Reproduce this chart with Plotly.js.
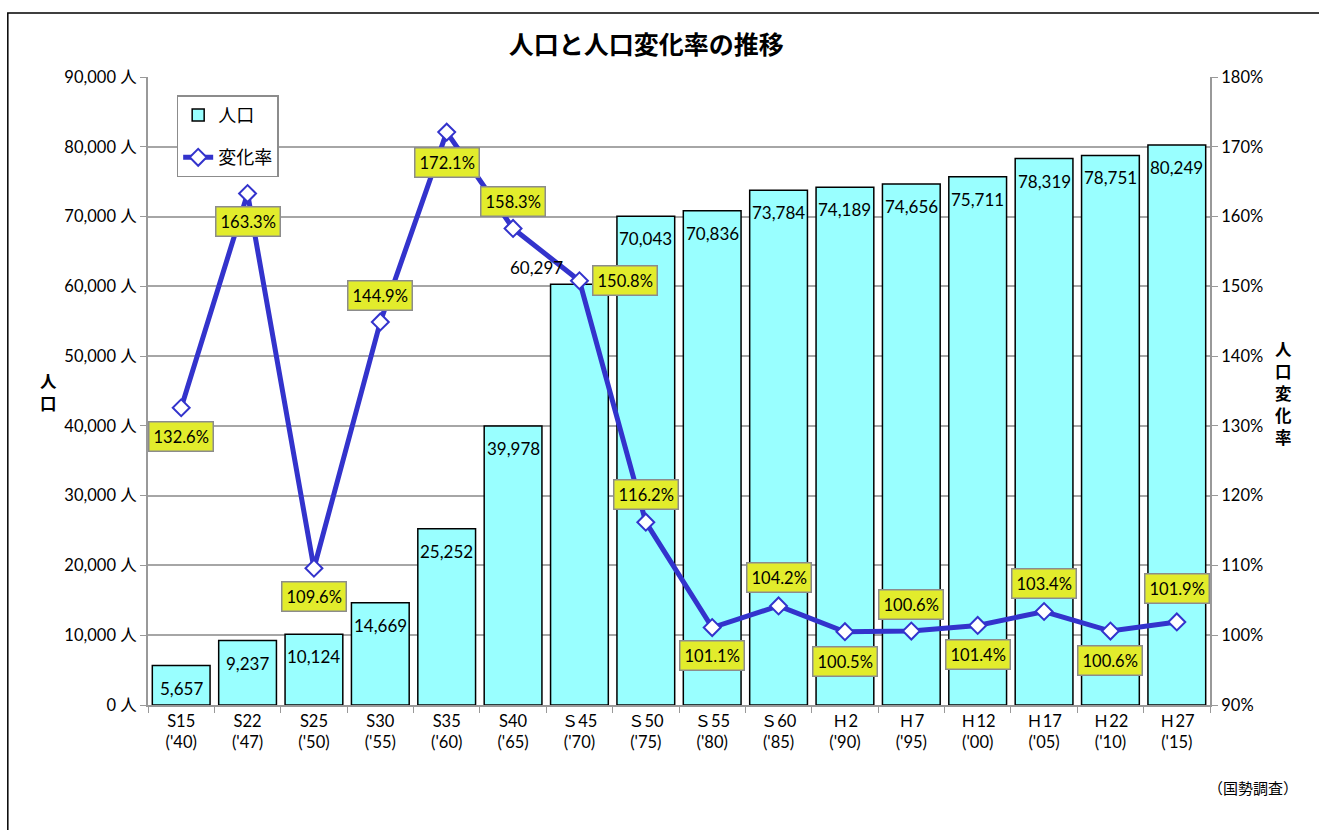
<!DOCTYPE html>
<html>
<head>
<meta charset="utf-8">
<script src="https://cdn.plot.ly/plotly-3.0.1.min.js"></script>
<style>
  html, body { margin: 0; padding: 0; background: #fff; }
  #chart { width: 1319px; height: 830px; }
</style>
</head>
<body>
<div id="chart"></div>
<script>
// 人口と人口変化率の推移

var years = ["S15<br>('40)", "S22<br>('47)", "S25<br>('50)", "S30<br>('55)", "S35<br>('60)", "S40<br>('65)",
             "Ｓ45<br>('70)", "Ｓ50<br>('75)", "Ｓ55<br>('80)", "Ｓ60<br>('85)", "Ｈ2<br>('90)", "Ｈ7<br>('95)",
             "Ｈ12<br>('00)", "Ｈ17<br>('05)", "Ｈ22<br>('10)", "Ｈ27<br>('15)"];

var population = [5657, 9237, 10124, 14669, 25252, 39978, 60297, 70043,
                  70836, 73784, 74189, 74656, 75711, 78319, 78751, 80249];

var changeRate = [132.6, 163.3, 109.6, 144.9, 172.1, 158.3, 150.8, 116.2,
                  101.1, 104.2, 100.5, 100.6, 101.4, 103.4, 100.6, 101.9];

// label offsets for the rate boxes (px, from the marker)
var rateShiftX = [0, 0, 0, 0, 0, 0, 46, 0, 0, 0, 0, 0, 0, 0, 0, 0];
var rateShiftY = [-29, -28, -28, 26, -30, 27, 0, 28, -28, 28, -30, 27, -29, 28, -29, 33];

var font = 'Lato, "Noto Sans CJK JP", sans-serif';
var jpBold = '"Noto Sans CJK JP", sans-serif';

var bars = {
    x: years,
    y: population,
    type: 'bar',
    name: '人口',
    legendgroup: 'pop',
    marker: { color: '#99FFFF', line: { color: '#000000', width: 1.5 } },
    hoverinfo: 'x+y'
};

var rate = {
    x: years,
    y: changeRate,
    yaxis: 'y2',
    type: 'scatter',
    mode: 'lines+markers',
    name: '変化率',
    legendgroup: 'rate',
    line: { color: '#3333CC', width: 5 },
    marker: { symbol: 'diamond', size: 13, color: '#FFFFFF', line: { color: '#3333CC', width: 2 } }
};

var annotations = [];

population.forEach(function (v, i) {
    var a = {
        x: years[i], y: v, xref: 'x', yref: 'y',
        text: v.toLocaleString('en-US'),
        showarrow: false, yanchor: 'top', yshift: -10,
        font: { family: font, size: 17, color: '#000' }
    };
    if (i === 6) { a.yanchor = 'bottom'; a.yshift = 4; a.xshift = -43; }
    annotations.push(a);
});

changeRate.forEach(function (v, i) {
    annotations.push({
        x: years[i], y: v, xref: 'x', yref: 'y2',
        text: v.toFixed(1) + '%',
        showarrow: false, xshift: rateShiftX[i], yshift: rateShiftY[i],
        bgcolor: '#E2EC2C', bordercolor: '#8C8C8C', borderwidth: 1.5, borderpad: 4,
        font: { family: font, size: 16.5, color: '#000' }
    });
});

// vertical axis titles, one character per annotation
function vertical(chars, xPaper, yTopPx) {
    chars.split('').forEach(function (c, k) {
        annotations.push({
            xref: 'paper', yref: 'paper', x: xPaper,
            y: (705 - (yTopPx + k * 22)) / 628,
            text: '<b>' + c + '</b>', showarrow: false,
            height: 20, borderpad: 0,
            font: { family: jpBold, size: 16.5, color: '#000' }
        });
    });
}
vertical('人口', -0.103, 381);
vertical('人口変化率', 1.078, 349);

annotations.push({
    xref: 'paper', yref: 'paper', x: 1.085, y: -0.152,
    xanchor: 'right',
    text: '（国勢調査）', showarrow: false,
    font: { family: jpBold, size: 15, color: '#000' }
});

var layout = {
    width: 1319,
    height: 830,
    margin: { l: 148, r: 109, t: 77, b: 125 },
    paper_bgcolor: '#FFFFFF',
    plot_bgcolor: '#FFFFFF',
    title: {
        text: '<b>人口と人口変化率の推移</b>',
        font: { family: jpBold, size: 25, color: '#000' },
        x: 0.49, xanchor: 'center', y: 0.945, yanchor: 'middle'
    },
    showlegend: true,
    legend: {
        x: 0.027, y: 0.971, xanchor: 'left', yanchor: 'top',
        bgcolor: '#FFFFFF', bordercolor: '#8C8C8C', borderwidth: 1.5,
        font: { family: font, size: 18, color: '#000' },
        tracegroupgap: 16
    },
    bargap: 0.13,
    xaxis: {
        type: 'category',
        range: [-0.5, 15.5],
        tickson: 'boundaries',
        ticks: 'outside', ticklen: 6, tickcolor: '#999',
        showline: true, linecolor: '#999', linewidth: 2,
        showgrid: false,
        tickfont: { family: font, size: 16.5, color: '#000' }
    },
    yaxis: {
        range: [0, 90000], dtick: 10000,
        tickformat: ',', ticksuffix: ' 人',
        ticks: 'outside', ticklen: 6, tickcolor: '#999',
        showline: true, linecolor: '#999', linewidth: 2,
        showgrid: true, gridcolor: '#A6A6A6', gridwidth: 1.5,
        zeroline: false,
        tickfont: { family: font, size: 16.5, color: '#000' }
    },
    yaxis2: {
        overlaying: 'y', side: 'right',
        range: [90, 180], dtick: 10, ticksuffix: '%',
        ticks: 'outside', ticklen: 6, tickcolor: '#999',
        showline: true, linecolor: '#999', linewidth: 2,
        showgrid: false, zeroline: false,
        tickfont: { family: font, size: 16.5, color: '#000' }
    },
    annotations: annotations,
    shapes: [{
        type: 'rect', xref: 'paper', yref: 'paper',
        x0: -0.132, x1: 1.2, y0: -0.5, y1: 1.102,
        line: { color: '#000', width: 1.5 }, layer: 'below'
    }]
};

Plotly.newPlot('chart', [bars, rate], layout, { displayModeBar: false });
</script>
</body>
</html>
